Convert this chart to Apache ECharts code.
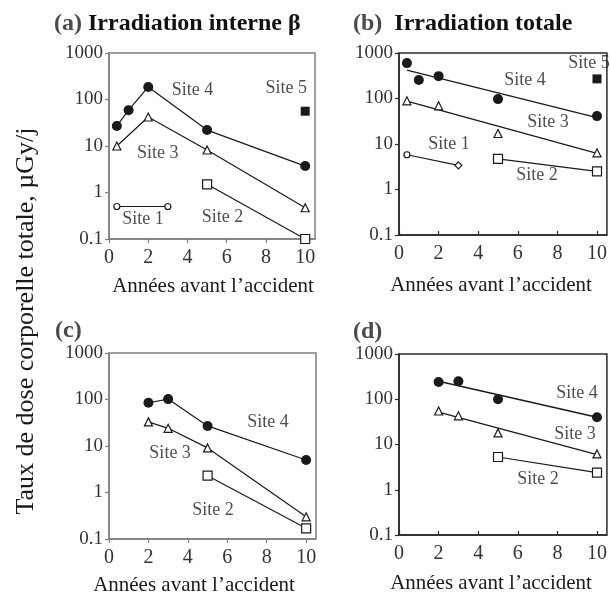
<!DOCTYPE html>
<html>
<head>
<meta charset="utf-8">
<script src="https://cdn.jsdelivr.net/npm/echarts@6/dist/echarts.min.js"></script>
<style>html,body{margin:0;padding:0;background:#fff}#c{width:610px;height:593px}</style>
</head>
<body>
<div id="c"></div>
<script>
// ---- tick labels ----
const xTicks = [0, 2, 4, 6, 8, 10];
const yTicks = [0.1, 1, 10, 100, 1000];

// ---- panel (a): Irradiation interne beta ----
const aSite4X = [0.4, 1, 2, 5, 10];
const aSite4Y = [27, 59, 186, 22, 3.7];
const aSite3X = [0.4, 2, 5, 10];
const aSite3Y = [10, 42, 8.2, 0.47];
const aSite2X = [5, 10];
const aSite2Y = [1.5, 0.1];
const aSite1X = [0.4, 3];
const aSite1Y = [0.5, 0.5];
const aSite5X = [10];
const aSite5Y = [56];

// ---- panel (b): Irradiation totale ----
const bSite4X = [0.4, 1, 2, 5, 10];
const bSite4Y = [600, 256, 310, 97, 41];
const bSite4FitX = [0.4, 10];
const bSite4FitY = [420, 38];
const bSite3X = [0.4, 2, 5, 10];
const bSite3Y = [89, 69, 17, 6.4];
const bSite3FitX = [0.4, 10];
const bSite3FitY = [88, 6.2];
const bSite1X = [0.4, 3];
const bSite1Y = [5.8, 3.4];
const bSite2X = [5, 10];
const bSite2Y = [4.7, 2.5];
const bSite5X = [10];
const bSite5Y = [270];

// ---- panel (c) ----
const cSite4X = [2, 3, 5, 10];
const cSite4Y = [85, 102, 27, 5.0];
const cSite3X = [2, 3, 5, 10];
const cSite3Y = [33, 24, 9.1, 0.3];
const cSite2X = [5, 10];
const cSite2Y = [2.3, 0.17];

// ---- panel (d) ----
const dSite4X = [2, 3, 5, 10];
const dSite4Y = [240, 250, 100, 40];
const dSite4FitX = [2, 10];
const dSite4FitY = [250, 40];
const dSite3X = [2, 3, 5, 10];
const dSite3Y = [55, 43, 18, 6.2];
const dSite3FitX = [2, 10];
const dSite3FitY = [52, 6.0];
const dSite2X = [5, 10];
const dSite2Y = [5.3, 2.4];

// ---- site labels (text, x, y in data units) ----
const aLabels = [['Site 4', 4.26, 158], ['Site 5', 9.04, 178], ['Site 3', 2.49, 7.1], ['Site 1', 1.73, 0.26], ['Site 2', 5.79, 0.30]];
const bLabels = [['Site 5', 9.6, 600], ['Site 4', 6.36, 257], ['Site 3', 7.53, 30], ['Site 1', 2.53, 10], ['Site 2', 6.97, 2.1]];
const cLabels = [['Site 4', 8.07, 33], ['Site 3', 3.10, 7.1], ['Site 2', 5.28, 0.42]];
const dLabels = [['Site 4', 8.99, 135], ['Site 3', 8.89, 17], ['Site 2', 7.02, 1.74]];

const FONT = 'Liberation Serif';
const INK = '#1a1a1a';

function pairs(xs, ys) { return xs.map((x, i) => [x, ys[i]]); }

const grids = [
  { left: 109, top: 53, width: 206, height: 186 },
  { left: 399, top: 53, width: 208, height: 182 },
  { left: 109, top: 353, width: 207, height: 186 },
  { left: 399, top: 354, width: 208, height: 181 }
];
const frameColors = ['#808080', '#2a2a2a', '#808080', '#2a2a2a'];
const tickInside = [false, true, false, true];

const option = {
  animation: false,
  backgroundColor: '#fff',
  grid: grids.map((g, i) => Object.assign({ show: true, borderColor: frameColors[i], borderWidth: 1.5, backgroundColor: 'transparent' }, g)),
  xAxis: grids.map((g, i) => ({
    type: 'value', gridIndex: i, min: 0, max: 10.5,
    axisLine: { show: true, lineStyle: { color: frameColors[i], width: 1.5 } },
    axisTick: { show: true, inside: tickInside[i], length: 4, customValues: xTicks, lineStyle: { color: frameColors[i], width: 1.2 } },
    axisLabel: { customValues: xTicks, fontFamily: FONT, fontSize: 20, color: '#333', margin: 9 },
    splitLine: { show: false }
  })),
  yAxis: grids.map((g, i) => ({
    type: 'log', logBase: 10, gridIndex: i, min: 0.1, max: 1000,
    axisLine: { show: true, lineStyle: { color: frameColors[i], width: 1.5 } },
    axisTick: { show: true, inside: false, length: 4, customValues: yTicks, lineStyle: { color: frameColors[i], width: 1.2 } },
    axisLabel: { customValues: yTicks, fontFamily: FONT, fontSize: 19, color: '#333', margin: 6,
      formatter: v => String(+(+v).toPrecision(3)) },
    splitLine: { show: false }, minorTick: { show: false }
  })),
  series: [],
  graphic: []
};

function filled(sym, size) { return { symbol: sym, symbolSize: size, itemStyle: { color: INK, borderColor: INK, borderWidth: 0, opacity: 1 } }; }
function open(sym, size) { return { symbol: sym, symbolSize: size, itemStyle: { color: '#fff', borderColor: INK, borderWidth: 1.2, opacity: 1 } }; }

function addLine(gi, xs, ys, mark) {
  option.series.push(Object.assign({
    type: 'line', xAxisIndex: gi, yAxisIndex: gi, data: pairs(xs, ys), clip: false,
    showAllSymbol: true, lineStyle: { color: INK, width: 1.2 }, z: 3
  }, mark));
}
function addPoints(gi, xs, ys, mark) {
  option.series.push(Object.assign({
    type: 'scatter', xAxisIndex: gi, yAxisIndex: gi, data: pairs(xs, ys), clip: false, z: 4
  }, mark));
}
function addFit(gi, xs, ys) {
  option.series.push({
    type: 'line', xAxisIndex: gi, yAxisIndex: gi, data: pairs(xs, ys), symbol: 'none',
    lineStyle: { color: INK, width: 1.3 }, z: 2
  });
}
function addLabels(gi, labels) {
  option.series.push({
    type: 'scatter', xAxisIndex: gi, yAxisIndex: gi, symbolSize: 0, silent: true, clip: false, z: 5,
    data: labels.map(l => ({ name: l[0], value: [l[1], l[2]] })),
    label: { show: true, position: 'inside', formatter: '{b}', fontFamily: FONT, fontSize: 18, color: '#222' }
  });
}

// panel (a)
addLine(0, aSite4X, aSite4Y, filled('circle', 10));
addLine(0, aSite3X, aSite3Y, open('triangle', 8));
addLine(0, aSite2X, aSite2Y, open('rect', 9));
addLine(0, aSite1X, aSite1Y, open('circle', 6));
addPoints(0, aSite5X, aSite5Y, filled('rect', 9));
addLabels(0, aLabels);

// panel (b)
addFit(1, bSite4FitX, bSite4FitY);
addPoints(1, bSite4X, bSite4Y, filled('circle', 10));
addFit(1, bSite3FitX, bSite3FitY);
addPoints(1, bSite3X, bSite3Y, open('triangle', 8));
addLine(1, bSite1X, bSite1Y, open('circle', 6));
option.series[option.series.length - 1].data[1] = { value: [bSite1X[1], bSite1Y[1]], symbol: 'diamond', symbolSize: 7 };
addLine(1, bSite2X, bSite2Y, open('rect', 9));
addPoints(1, bSite5X, bSite5Y, filled('rect', 9));
addLabels(1, bLabels);

// panel (c)
addLine(2, cSite4X, cSite4Y, filled('circle', 10));
addLine(2, cSite3X, cSite3Y, open('triangle', 8));
addLine(2, cSite2X, cSite2Y, open('rect', 9));
addLabels(2, cLabels);

// panel (d)
addFit(3, dSite4FitX, dSite4FitY);
addPoints(3, dSite4X, dSite4Y, filled('circle', 10));
addFit(3, dSite3FitX, dSite3FitY);
addPoints(3, dSite3X, dSite3Y, open('triangle', 8));
addLine(3, dSite2X, dSite2Y, open('rect', 9));
addLabels(3, dLabels);

// titles and axis names
function txt(x, y, text, style) {
  option.graphic.push({ type: 'text', x: x, y: y, style: Object.assign({ text: text, fontFamily: FONT, fill: INK, textVerticalAlign: 'middle' }, style) });
}
const TS = 24;
const titleRich = { p: { fontFamily: FONT, fontSize: TS, fontWeight: 'bold', fill: '#4a4a4a' }, t: { fontFamily: FONT, fontSize: TS, fontWeight: 'bold', fill: '#111' } };
txt(54, 24, '{p|(a)} {t|Irradiation interne β}', { rich: titleRich, fontSize: TS, fontWeight: 'bold' });
txt(353, 24, '{p|(b)}  {t|Irradiation totale}', { rich: titleRich, fontSize: TS, fontWeight: 'bold' });
txt(55, 331, '{p|(c)}', { rich: titleRich, fontSize: TS, fontWeight: 'bold' });
txt(353, 332, '{p|(d)}', { rich: titleRich, fontSize: TS, fontWeight: 'bold' });

const xName = 'Années avant l’accident';
txt(213, 286, xName, { fontSize: 21, textAlign: 'center' });
txt(491, 285, xName, { fontSize: 21, textAlign: 'center' });
txt(194, 585, xName, { fontSize: 21, textAlign: 'center' });
txt(491, 583, xName, { fontSize: 21, textAlign: 'center' });

option.graphic.push({
  type: 'text', x: 26, y: 321, rotation: Math.PI / 2,
  style: { text: 'Taux de dose corporelle totale, µGy/j', fontFamily: FONT, fontSize: 26, fill: INK, textAlign: 'center', textVerticalAlign: 'middle' }
});

const chart = echarts.init(document.getElementById('c'), null, { renderer: 'canvas' });
chart.setOption(option);
</script>
</body>
</html>
